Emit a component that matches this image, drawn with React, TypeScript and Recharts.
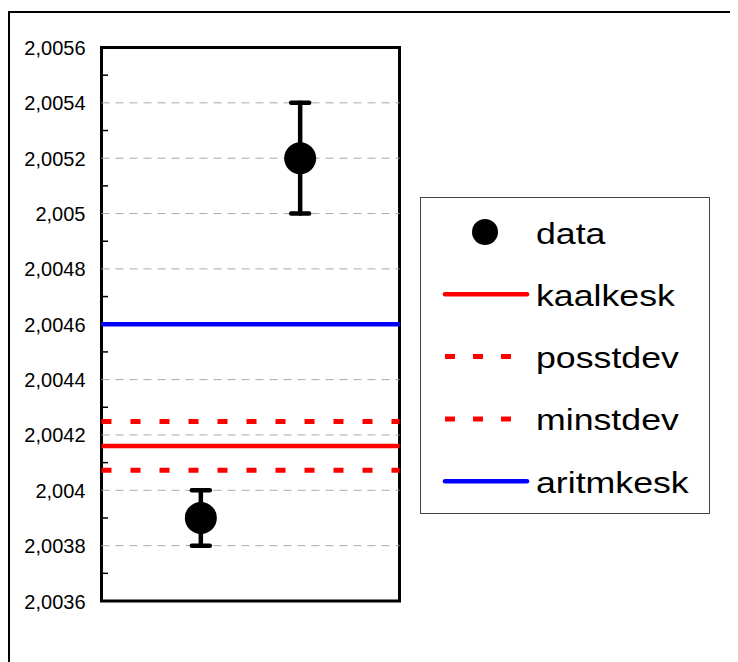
import React from "react";
import {
  ScatterChart,
  Scatter,
  XAxis,
  YAxis,
  ErrorBar,
  ReferenceLine,
  ReferenceArea,
} from "recharts";

// ---- data ----
const xPositions = [1, 2];
const dataValues = [2.0039, 2.0052];
const dataErrors = [0.0001, 0.0002];

const kaalkesk = 2.00416;
const posstdev = 2.004249;
const minstdev = 2.004072;
const aritmkesk = 2.0046;

const yTicks = [
  2.0036, 2.0037, 2.0038, 2.0039, 2.004, 2.0041, 2.0042, 2.0043, 2.0044,
  2.0045, 2.0046, 2.0047, 2.0048, 2.0049, 2.005, 2.0051, 2.0052, 2.0053,
  2.0054, 2.0055, 2.0056,
];
const majorTicks = [
  2.0036, 2.0038, 2.004, 2.0042, 2.0044, 2.0046, 2.0048, 2.005, 2.0052,
  2.0054, 2.0056,
];
const majorTickLabels = [
  "2,0036", "2,0038", "2,004", "2,0042", "2,0044", "2,0046", "2,0048",
  "2,005", "2,0052", "2,0054", "2,0056",
];

const legendNames = ["data", "kaalkesk", "posstdev", "minstdev", "aritmkesk"];

const points = xPositions.map((x, i) => ({
  x,
  y: dataValues[i],
  err: dataErrors[i],
}));

const FONT = "'Liberation Sans', Arial, sans-serif";

const YTick = (props: any) => {
  const { x, y, payload } = props;
  const v = payload.value as number;
  const idx = majorTicks.findIndex((m) => Math.abs(m - v) < 1e-9);
  if (idx >= 0) {
    return (
      <text
        x={x}
        y={y}
        dy={7.5}
        textAnchor="end"
        fontSize={20}
        fontFamily={FONT}
        fill="#000"
      >
        {majorTickLabels[idx]}
      </text>
    );
  }
  return (
    <line x1={x + 17} x2={x + 22.5} y1={y} y2={y} stroke="#000" strokeWidth={1.5} />
  );
};

const Dot = (props: any) => {
  const { cx, cy } = props;
  return <circle cx={cx} cy={cy} r={16} fill="#000" />;
};

const LegendBox = () => {
  const rowY = (i: number) => 35 + i * 62.3;
  return (
    <div
      style={{
        position: "absolute",
        left: 412,
        top: 189,
        width: 290,
        height: 317,
        border: "1px solid #444",
        boxSizing: "border-box",
        background: "#fff",
      }}
    >
      <svg width={288} height={315} style={{ display: "block" }}>
        {legendNames.map((name, i) => {
          const cy = rowY(i) - 1;
          let sym: React.ReactNode = null;
          if (i === 0) sym = <circle cx={64} cy={cy} r={13} fill="#000" />;
          else if (i === 1)
            sym = (
              <line x1={24} x2={106} y1={cy} y2={cy} stroke="#ff0000" strokeWidth={4.5} strokeLinecap="round" />
            );
          else if (i === 2 || i === 3)
            sym = (
              <line x1={24} x2={106} y1={cy} y2={cy} stroke="#ff0000" strokeWidth={5} strokeDasharray="10 18" />
            );
          else
            sym = (
              <line x1={24} x2={106} y1={cy} y2={cy} stroke="#0000ff" strokeWidth={4.5} strokeLinecap="round" />
            );
          return (
            <g key={name}>
              {sym}
              <text
                transform={`translate(115, ${cy + 11.5}) scale(1.19, 1)`}
                fontSize={30}
                fontFamily={FONT}
                fill="#000"
              >
                {name}
              </text>
            </g>
          );
        })}
      </svg>
    </div>
  );
};

export default function App() {
  return (
    <div
      style={{
        position: "relative",
        width: 730,
        height: 654,
        overflow: "hidden",
        background: "#fff",
      }}
    >
      <div
        style={{
          position: "absolute",
          left: 0,
          top: 3,
          width: 900,
          height: 900,
          borderLeft: "2px solid #000",
          borderTop: "2px solid #000",
        }}
      />
      <div style={{ position: "absolute", left: 0, top: 0 }}>
        <ScatterChart
          width={730}
          height={654}
          margin={{ top: 39.5, right: 338.5, bottom: 61, left: 13.5 }}
        >
          <XAxis type="number" dataKey="x" domain={[0, 3]} hide />
          <YAxis
            type="number"
            dataKey="y"
            domain={[2.0036, 2.0056]}
            ticks={yTicks}
            interval={0}
            width={80}
            axisLine={false}
            tickLine={false}
            tickSize={0}
            tickMargin={16}
            tick={<YTick />}
            allowDataOverflow
          />
          {majorTicks.slice(1, -1).map((v) => (
            <ReferenceLine
              key={`g${v}`}
              y={v}
              stroke="#aaaaaa"
              strokeWidth={1}
              strokeDasharray="8 6"
            />
          ))}
          <ReferenceLine y={aritmkesk} stroke="#0000ff" strokeWidth={4.5} />
          <ReferenceLine y={posstdev} stroke="#ff0000" strokeWidth={5} strokeDasharray="10 19" />
          <ReferenceLine y={kaalkesk} stroke="#ff0000" strokeWidth={4.5} />
          <ReferenceLine y={minstdev} stroke="#ff0000" strokeWidth={5} strokeDasharray="10 19" />
          <Scatter data={points} shape={<Dot />} isAnimationActive={false}>
            <ErrorBar
              dataKey="err"
              direction="y"
              width={9}
              strokeWidth={4.5}
              stroke="#000"
              strokeLinecap="round"
            />
          </Scatter>
          <ReferenceArea
            x1={0}
            x2={3}
            y1={2.0036}
            y2={2.0056}
            fill="none"
            fillOpacity={0}
            stroke="#000"
            strokeWidth={3}
          />
        </ScatterChart>
      </div>
      <LegendBox />
    </div>
  );
}
